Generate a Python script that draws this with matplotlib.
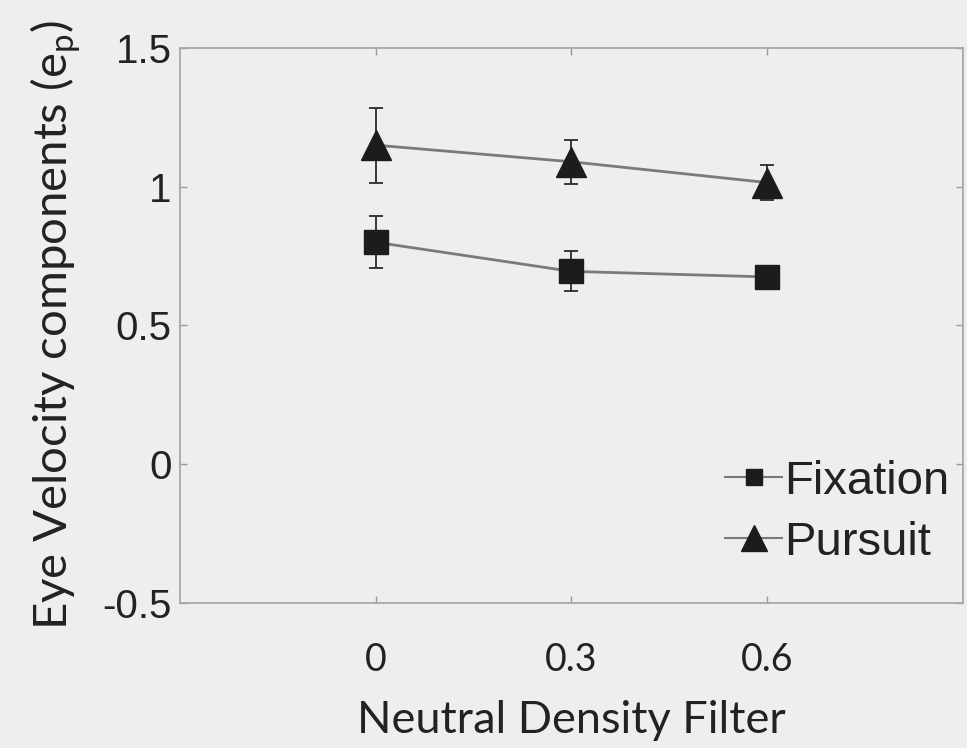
import matplotlib
matplotlib.use("Agg")
import matplotlib.pyplot as plt
from matplotlib.lines import Line2D

plt.rcParams['mathtext.default'] = 'regular'

ndf = [0.0, 0.3, 0.6]
xtick_labels = ["0", "0.3", "0.6"]
fixation = [0.80, 0.695, 0.675]
fixation_err = [0.093, 0.072, 0.0]
pursuit = [1.15, 1.09, 1.015]
pursuit_err = [0.135, 0.08, 0.062]
yticks = [-0.5, 0, 0.5, 1, 1.5]
ytick_labels = ["-0.5", "0", "0.5", "1", "1.5"]

bg = '#eeeeee'
fig = plt.figure(figsize=(9.67, 7.48), dpi=100, facecolor=bg)
ax = fig.add_axes([0.1861, 0.1939, 0.8098, 0.7419], facecolor=bg)

ax.errorbar(ndf, fixation, yerr=fixation_err, color='#7a7a7a', lw=2,
            marker='s', ms=17, mfc='#1c1c1c', mec='#1c1c1c',
            ecolor='#2a2a2a', elinewidth=1.3, capsize=5, capthick=1.3)
ax.errorbar(ndf, pursuit, yerr=pursuit_err, color='#7a7a7a', lw=2,
            marker='^', ms=21, mfc='#1c1c1c', mec='#1c1c1c',
            ecolor='#2a2a2a', elinewidth=1.3, capsize=5, capthick=1.3)

ax.set_xlim(-0.3, 0.9)
ax.set_ylim(-0.5, 1.5)
ax.set_xticks(ndf)
ax.set_xticklabels(xtick_labels, family='Lato', fontsize=27, color='#222222')
ax.set_yticks(yticks)
ax.set_yticklabels(ytick_labels, family='Liberation Sans', fontsize=29, color='#222222')
ax.tick_params(direction='in', length=5, width=1, color='#999999',
               top=True, right=True)
ax.tick_params(axis='y', pad=6)
ax.tick_params(axis='x', pad=28)
for s in ax.spines.values():
    s.set_color('#a8a8a8')
    s.set_linewidth(1.3)

ax.set_xlabel('Neutral Density Filter', family='Lato', fontsize=32.5,
              color='#222222', labelpad=16)
ax.set_ylabel('Eye Velocity components (e$_{p}$)', family='Lato', fontsize=34,
              color='#222222', labelpad=14)

handles = [
    Line2D([], [], color='#7a7a7a', lw=1.5, marker='s', ms=12,
           mfc='#1c1c1c', mec='#1c1c1c'),
    Line2D([], [], color='#7a7a7a', lw=1.5, marker='^', ms=19,
           mfc='#1c1c1c', mec='#1c1c1c'),
]
leg = ax.legend(handles, ['Fixation', 'Pursuit'], loc='lower right', frameon=False,
                prop={'family': 'Liberation Sans', 'size': 34},
                handlelength=1.2, handletextpad=0.05, labelspacing=0.36,
                borderaxespad=0.1, bbox_to_anchor=(1.013, 0.026))
for t in leg.get_texts():
    t.set_color('#222222')

fig.savefig('out.png', dpi=100, facecolor=bg)
